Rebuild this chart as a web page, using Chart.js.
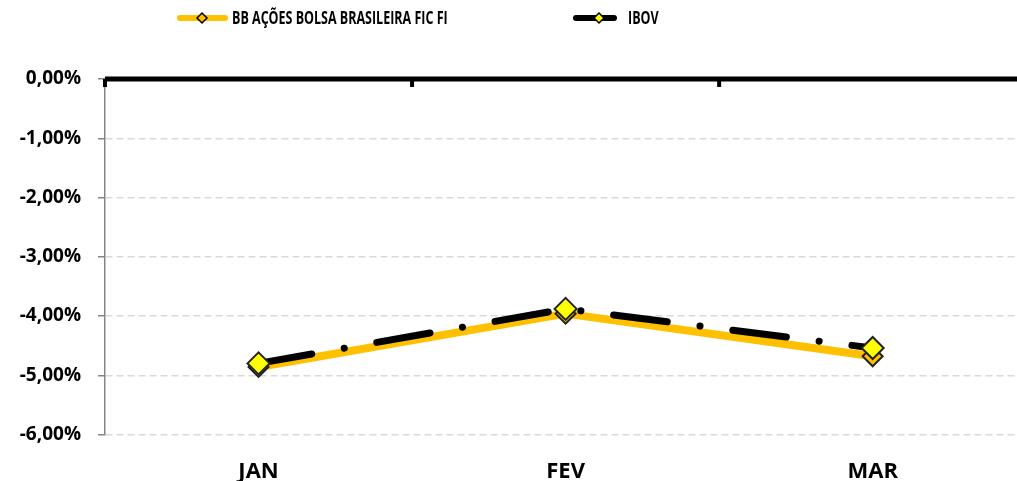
<!DOCTYPE html>
<html>
<head>
<meta charset="utf-8">
<script src="https://cdn.jsdelivr.net/npm/chart.js@4.4.1/dist/chart.umd.min.js"></script>
<style>
  html, body { margin: 0; padding: 0; background: #fff; overflow: hidden; }
  #c { position: absolute; left: 0; top: 0; width: 1017px; height: 481px; }
</style>
</head>
<body>
<canvas id="c" width="1017" height="481"></canvas>
<script>
const categories = ['JAN', 'FEV', 'MAR'];
const bbValues = [-4.86, -3.96, -4.68];
const ibovValues = [-4.80, -3.88, -4.54];
const yTickValues = [0, -1, -2, -3, -4, -5, -6];
const yTickLabels = ['0,00%', '-1,00%', '-2,00%', '-3,00%', '-4,00%', '-5,00%', '-6,00%'];
const seriesNames = ['BB AÇÕES BOLSA BRASILEIRA FIC FI', 'IBOV'];

const GOLD = '#FFC000';
const YELLOW = '#FFFF00';

// category i sits at index i on a linear index scale
const toPoints = vals => vals.map((v, i) => ({ x: i, y: v }));

const zeroLinePlugin = {
  id: 'zeroLine',
  afterDraw(chart) {
    const { ctx, chartArea, scales } = chart;
    const y0 = scales.y.getPixelForValue(0);
    ctx.save();
    ctx.strokeStyle = '#000';
    ctx.lineWidth = 4;
    for (let i = 0; i <= categories.length; i++) {
      const x = scales.x.getPixelForValue(i - 0.5);
      if (x > chartArea.right + 1) continue;
      ctx.beginPath();
      ctx.moveTo(x, y0);
      ctx.lineTo(x, y0 + 8);
      ctx.stroke();
    }
    ctx.lineWidth = 5;
    ctx.beginPath();
    ctx.moveTo(chartArea.left, y0);
    ctx.lineTo(chartArea.right, y0);
    ctx.stroke();
    ctx.restore();
  }
};

const legendPlugin = {
  id: 'customLegend',
  afterDraw(chart) {
    const { ctx } = chart;
    const items = [
      { x1: 180, x2: 225, mx: 202, color: GOLD, fill: GOLD, text: chart.data.datasets[0].label, tx: 232 },
      { x1: 576, x2: 614, mx: 599, color: '#000', fill: YELLOW, text: chart.data.datasets[1].label, tx: 628 }
    ];
    const y = 18;
    ctx.save();
    items.forEach(it => {
      ctx.strokeStyle = it.color;
      ctx.lineWidth = 6;
      ctx.lineCap = 'round';
      ctx.beginPath();
      ctx.moveTo(it.x1, y);
      ctx.lineTo(it.x2, y);
      ctx.stroke();
      const r = 5;
      ctx.beginPath();
      ctx.moveTo(it.mx - r, y);
      ctx.lineTo(it.mx, y - r);
      ctx.lineTo(it.mx + r, y);
      ctx.lineTo(it.mx, y + r);
      ctx.closePath();
      ctx.fillStyle = it.fill;
      ctx.fill();
      ctx.lineWidth = 1.5;
      ctx.lineCap = 'butt';
      ctx.strokeStyle = '#000';
      ctx.stroke();
      ctx.save();
      ctx.translate(it.tx, y + 1);
      ctx.scale(0.735, 1);
      ctx.fillStyle = '#000';
      ctx.font = 'bold 17px "Open Sans"';
      ctx.textBaseline = 'middle';
      ctx.textAlign = 'left';
      ctx.fillText(it.text, 0, 0);
      ctx.restore();
    });
    ctx.restore();
  }
};

new Chart(document.getElementById('c'), {
  type: 'line',
  data: {
    datasets: [
      {
        label: seriesNames[0],
        data: toPoints(bbValues),
        order: 1,
        borderColor: GOLD,
        borderWidth: 8,
        borderCapStyle: 'round',
        borderJoinStyle: 'round',
        tension: 0,
        pointStyle: 'rectRot',
        pointRadius: 10,
        pointBackgroundColor: GOLD,
        pointBorderColor: '#222',
        pointBorderWidth: 2
      },
      {
        label: seriesNames[1],
        data: toPoints(ibovValues),
        order: 0,
        borderColor: '#000',
        borderWidth: 7,
        borderCapStyle: 'round',
        borderJoinStyle: 'round',
        borderDash: [54, 33, 0.1, 33],
        tension: 0,
        pointStyle: 'rectRot',
        pointRadius: 11,
        pointBackgroundColor: YELLOW,
        pointBorderColor: '#222',
        pointBorderWidth: 2
      }
    ]
  },
  options: {
    responsive: false,
    maintainAspectRatio: false,
    animation: false,
    events: [],
    layout: { autoPadding: false, padding: { top: 79, left: 0, right: 0, bottom: 0 } },
    plugins: { legend: { display: false }, tooltip: { enabled: false }, title: { display: false } },
    scales: {
      x: {
        type: 'linear',
        min: -0.5,
        max: 2.47,
        afterBuildTicks(scale) { scale.ticks = categories.map((c, i) => ({ value: i })); },
        grid: { display: false },
        border: { display: false },
        ticks: {
          color: '#000',
          font: { family: 'Open Sans', weight: 'bold', size: 22 },
          padding: 16,
          maxRotation: 0,
          callback: (v, i) => categories[i]
        },
        afterFit(scale) { scale.height = 46.5; }
      },
      y: {
        min: -6,
        max: 0,
        afterBuildTicks(scale) { scale.ticks = yTickValues.map(v => ({ value: v })); },
        ticks: {
          color: '#000',
          font: { family: 'Open Sans', weight: 'bold', size: 19 },
          padding: 17,
          callback: (v, i) => yTickLabels[i]
        },
        grid: {
          color: '#D9D9D9',
          lineWidth: 1.5,
          tickColor: '#868686',
          tickLength: 7,
          tickWidth: 1.5
        },
        border: { display: true, color: '#868686', width: 1.5, dash: [7, 4] },
        afterFit(scale) { scale.width = 105; }
      }
    }
  },
  plugins: [zeroLinePlugin, legendPlugin]
});
</script>
</body>
</html>
